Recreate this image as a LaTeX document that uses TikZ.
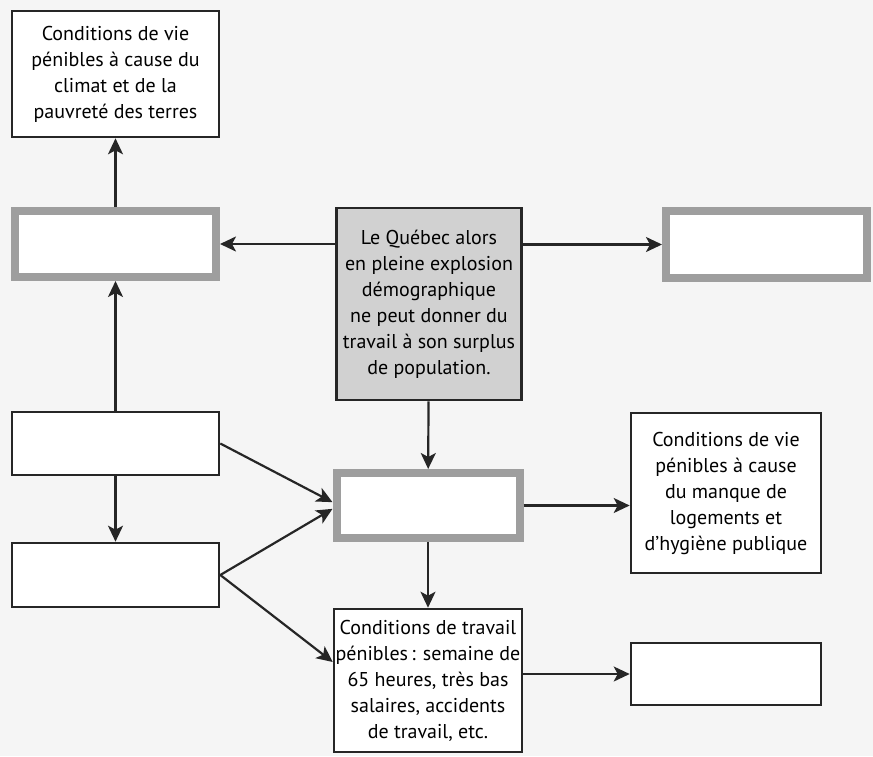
\documentclass[tikz,border=0pt]{standalone}
\usepackage{fontspec}
\setmainfont{PT Sans}[Ligatures=NoCommon]
\usetikzlibrary{arrows.meta}

\tikzset{
  box/.style={draw=black!85, line width=1.3pt, fill=white, align=center, inner sep=0pt, font=\fontsize{10}{13}\selectfont},
  mainbox/.style={box, fill=black!18},
  graybox/.style={draw=black!38, line width=4pt, fill=white, inner sep=0pt},
  fleche/.style={-{Stealth[length=8pt,width=7.5pt,inset=2pt]}, line width=1.1pt, draw=black!85}
}

\begin{document}
\begin{tikzpicture}[x=0.5pt, y=-0.5pt]
				\fill[black!4] (0,0) rectangle (873,756);
				\node[box, minimum width=103.5pt, minimum height=63pt] (vieRurale) at (115.5,74) {Conditions de vie\\pénibles à cause du\\climat et de la\\pauvreté des terres};
				\node[graybox, minimum width=100.5pt, minimum height=33pt] (caseA) at (115.5,244) {};
				\node[mainbox, minimum width=92.5pt, minimum height=96pt] (quebec) at (429,304) {Le Québec alors\\en pleine explosion\\démographique\\ne peut donner du\\travail à son surplus\\de population.};
				\node[graybox, minimum width=100.5pt, minimum height=33.5pt] (caseB) at (766.5,244.5) {};
				\node[box, minimum width=103.5pt, minimum height=31.5pt] (caseC) at (115.5,443.5) {};
				\node[box, minimum width=103.5pt, minimum height=32pt] (caseD) at (115.5,575) {};
				\node[graybox, minimum width=91.5pt, minimum height=32.5pt] (caseE) at (428,505.5) {};
				\node[box, minimum width=95pt, minimum height=80pt] (vieUrbaine) at (726,493) {Conditions de vie\\pénibles à cause\\du manque de\\logements et\\d’hygiène publique};
				\node[box, minimum width=94pt, minimum height=71.5pt] (travail) at (428,680.5) {Conditions de travail\\pénibles\,: semaine de\\65 heures, très bas\\salaires, accidents\\de travail, etc.};
				\node[box, minimum width=95pt, minimum height=31pt] (caseF) at (726,674) {};
				\draw[fleche] (caseA) -- (vieRurale);
				\draw[fleche] (caseC) -- (caseA);
				\draw[fleche] (caseC) -- (caseD);
				\draw[fleche] (quebec.west |- caseA.east) -- (caseA.east);
				\draw[fleche] (quebec.east |- caseB.west) -- (caseB.west);
				\draw[fleche] (quebec) -- (caseE);
				\draw[fleche] (caseE) -- (travail);
				\draw[fleche] (caseC.east) -- (caseE.178);
				\draw[fleche] (caseD.east) -- (caseE.182);
				\draw[fleche] (caseD.east) -- (travail.169);
				\draw[fleche] (caseE.east) -- (caseE.east -| vieUrbaine.west);
				\draw[fleche] (travail.east |- caseF.west) -- (caseF.west);
			\end{tikzpicture}
\end{document}
